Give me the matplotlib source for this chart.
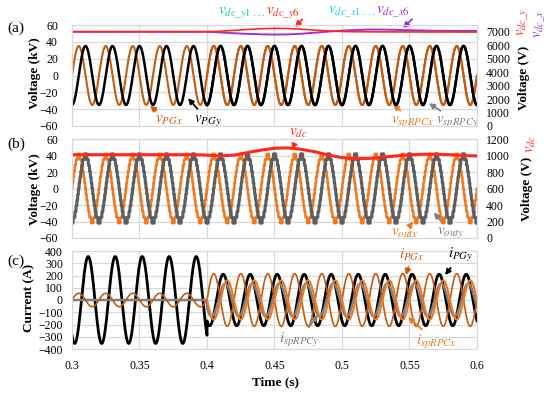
import numpy as np
import matplotlib
matplotlib.use('Agg')
import matplotlib.pyplot as plt

plt.rcParams['font.family'] = ['Liberation Serif', 'DejaVu Serif']
plt.rcParams['mathtext.fontset'] = 'stix'
plt.rcParams['axes.unicode_minus'] = True

# ---------------- data ----------------
F_GRID = 50.0                      # Hz
T_START, T_END, T_STEP_EVENT = 0.3, 0.6, 0.4
XTICKS = [0.3, 0.35, 0.4, 0.45, 0.5, 0.55, 0.6]
XTICK_LABELS = ['0.3', '0.35', '0.4', '0.45', '0.5', '0.55', '0.6']

# panel (a): grid voltages (kV) and spRPC voltages (V): amplitude / offset / peak time
VPG_AMP_KV = [35.0, 35.0]          # x, y
VPG_PEAK_T = [0.305, 0.310]
VSP_AMP_V = [2200.0, 2200.0]
VSP_OFFSET_V = [3750.0, 3750.0]
VSP_PEAK_T = [0.305, 0.310]

# panel (a): dc-link voltages (V) read every 10 ms
DC_T = [0.30, 0.31, 0.32, 0.33, 0.34, 0.35, 0.36, 0.37, 0.38, 0.39, 0.40,
        0.41, 0.42, 0.43, 0.44, 0.45, 0.46, 0.47, 0.48, 0.49, 0.50,
        0.51, 0.52, 0.53, 0.54, 0.55, 0.56, 0.57, 0.58, 0.59, 0.60]
VDC_Y = [7000, 7000, 7000, 7000, 7000, 7000, 7000, 7000, 7000, 7000, 7000,
         7040, 7100, 7170, 7220, 7250, 7240, 7190, 7120, 7060, 7020,
         7000, 6990, 6990, 6985, 6985, 6980, 6980, 6980, 6975, 6975]
VDC_X = [7000, 7000, 7000, 7000, 7000, 7000, 7000, 7000, 7000, 7000, 7000,
         6950, 6890, 6840, 6810, 6790, 6800, 6850, 6930, 7010, 7080,
         7130, 7160, 7160, 7140, 7110, 7090, 7070, 7060, 7060, 7060]

# panel (b): multilevel output voltages (kV) and dc voltage (V)
VOUT_AMP_KV = [40.0, 40.0]
VOUT_PEAK_T = [0.305, 0.310]
VOUT_LEVEL_KV = 7.0
VDC_B = [1010, 1010, 1010, 1010, 1010, 1010, 1010, 1010, 1010, 1010, 1005,
         995, 1005, 1035, 1065, 1088, 1092, 1075, 1045, 1005, 975,
         962, 965, 978, 995, 1008, 1015, 1015, 1010, 1000, 995]

# panel (c): currents (A): amplitude before / after 0.4 s, peak time
I_NAMES = ['iPGy', 'ispRPCy', 'iPGx', 'ispRPCx']
I_AMP_BEFORE = [355.0, 0.0, 55.0, 0.0]
I_AMP_AFTER = [210.0, 135.0, 215.0, 160.0]
I_PEAK_T = [0.312, 0.3135, 0.305, 0.315]

# ---------------- colours ----------------
C_BROWN = '#C55A11'
C_ORANGE = '#F07820'
C_GRAY = '#808080'
C_DGRAY = '#5E5E5E'
C_RED = '#FF2A1A'
C_PURPLE = '#9B30D9'
C_TEAL = '#12C9A6'
C_CYAN = '#1EC8F0'
C_GRID = '#D9D9D9'

t = np.linspace(T_START, T_END, 6001)
w = 2 * np.pi * F_GRID


def wave(amp, peak, offset=0.0):
    return offset + amp * np.cos(w * (t - peak))


fig = plt.figure(figsize=(5.5, 3.94), dpi=100)
FW, FH = 550.0, 394.0


def rect(top, bot):
    return [72 / FW, 1 - bot / FH, 405 / FW, (bot - top) / FH]


axa = fig.add_axes(rect(25, 126))
axb = fig.add_axes(rect(139, 238))
axc = fig.add_axes(rect(251, 349))


def style(ax, pad):
    ax.set_xlim(T_START, T_END)
    ax.set_xticks(XTICKS)
    ax.grid(True, color=C_GRID, lw=0.9)
    ax.set_axisbelow(True)
    for s in ax.spines.values():
        s.set_color(C_GRID)
    ax.tick_params(length=0, labelsize=8.5, pad=pad)


for ax, pad in ((axa, 10), (axb, 10), (axc, 6.5)):
    style(ax, pad)
axa.set_xticklabels([])
axb.set_xticklabels([])
axc.set_xticklabels(XTICK_LABELS)
axc.tick_params(axis='x', pad=8)

# ---- panel (a)
axa.set_ylim(-60, 60)
axa.set_yticks(range(-60, 61, 20))
axa.plot(t, wave(VPG_AMP_KV[0], VPG_PEAK_T[0]), color=C_BROWN, lw=1.5)
axa.plot(t, wave(VPG_AMP_KV[1], VPG_PEAK_T[1]), color='black', lw=1.8)
axa2 = axa.twinx()
axa2.set_ylim(0, 7500)
axa2.set_yticks(range(0, 7001, 1000))
axa2.tick_params(length=0, labelsize=8.5, pad=6.5)
for s in axa2.spines.values():
    s.set_color(C_GRID)
m = t >= T_STEP_EVENT
axa2.plot(t[m], wave(VSP_AMP_V[0], VSP_PEAK_T[0], VSP_OFFSET_V[0])[m], color=C_BROWN, lw=1.5)
axa2.plot(t[m], wave(VSP_AMP_V[1], VSP_PEAK_T[1], VSP_OFFSET_V[1])[m], color='black', lw=1.8)
axa2.plot(DC_T, VDC_X, color=C_PURPLE, lw=1.4)
axa2.plot(DC_T, VDC_Y, color=C_RED, lw=1.2)

# ---- panel (b)
axb.set_ylim(-60, 60)
axb.set_yticks(range(-60, 61, 20))
vox = VOUT_LEVEL_KV * np.round(wave(VOUT_AMP_KV[0], VOUT_PEAK_T[0]) / VOUT_LEVEL_KV)
voy = VOUT_LEVEL_KV * np.round(wave(VOUT_AMP_KV[1], VOUT_PEAK_T[1]) / VOUT_LEVEL_KV)
axb.plot(t, vox, color=C_ORANGE, lw=1.8)
axb.plot(t, voy, color=C_DGRAY, lw=2.2)
axb2 = axb.twinx()
axb2.set_ylim(0, 1200)
axb2.set_yticks(range(0, 1201, 200))
axb2.tick_params(length=0, labelsize=8.5, pad=6.5)
for s in axb2.spines.values():
    s.set_color(C_GRID)
axb2.plot(DC_T, VDC_B, color=C_RED, lw=2.2)

# ---- panel (c)
axc.set_ylim(-400, 400)
axc.set_yticks(range(-400, 401, 100))
styles = {'iPGy': ('black', 2.0), 'ispRPCy': (C_GRAY, 1.8),
          'iPGx': (C_BROWN, 1.2), 'ispRPCx': (C_ORANGE, 1.5)}
before = t < T_STEP_EVENT
for name, a0, a1, pk in zip(I_NAMES, I_AMP_BEFORE, I_AMP_AFTER, I_PEAK_T):
    amp = np.where(before, a0, a1)
    col, lw = styles[name]
    y = amp * np.cos(w * (t - pk))
    if name == 'ispRPCx':
        y = np.where(before, np.nan, y)
    axc.plot(t, y, color=col, lw=lw)

# ---------------- annotations ----------------
def note(ax, txt, xy, xytext, color, size=11):
    ax.annotate(txt, xy=xy, xytext=xytext, color=color, fontsize=size,
                ha='center', va='center', annotation_clip=False,
                arrowprops=dict(arrowstyle='-|>', color=color, lw=1.3,
                                mutation_scale=8, shrinkA=1, shrinkB=0))


note(axa, r'$v_{PGx}$', (0.3578, -36), (0.3715, -54), C_BROWN)
note(axa, r'$v_{PGy}$', (0.3859, -27), (0.4005, -53), 'black')
note(axa, r'$v_{spRPCx}$', (0.5378, -34), (0.5525, -55), C_ORANGE)
note(axa, r'$v_{spRPCy}$', (0.5644, -33), (0.5855, -55), C_GRAY)
note(axa, '', (0.4652, 57.5), (0.4712, 68), C_RED)
note(axa, '', (0.5452, 56.5), (0.5526, 68), C_PURPLE)
axa.text(0.4430, 75, r'$v_{dc\_y1\ ...}$', color=C_TEAL, fontsize=11, ha='right', va='center')
axa.text(0.4440, 75, r'$v_{dc\_y6}$', color=C_RED, fontsize=11, ha='left', va='center')
axa.text(0.5245, 75, r'$v_{dc\_x1\ ...}$', color=C_CYAN, fontsize=11, ha='right', va='center')
axa.text(0.5255, 75, r'$v_{dc\_x6}$', color=C_PURPLE, fontsize=11, ha='left', va='center')

note(axb, r'$v_{dc}$', (0.463, 47), (0.4680, 67), C_RED)
note(axb, r'$v_{outx}$', (0.5526, -40), (0.5460, -55), C_ORANGE)
note(axb, r'$v_{outy}$', (0.5681, -29), (0.5800, -53), C_GRAY)

note(axc, r'$i_{PGx}$', (0.5474, 204), (0.5519, 367), C_BROWN)
note(axc, r'$i_{PGy}$', (0.5763, 204), (0.5881, 367), 'black')
note(axc, r'$i_{spRPCx}$', (0.5489, -139), (0.5696, -343), C_ORANGE)
note(axc, r'$i_{spRPCy}$', (0.4822, -122), (0.4681, -327), C_GRAY)

# ---------------- axis titles ----------------
def ftext(x, y, s, **kw):
    fig.text(x / FW, 1 - y / FH, s, **kw)


ftext(16, 28, '(a)', fontsize=11, ha='center', va='center')
ftext(16, 144, '(b)', fontsize=11, ha='center', va='center')
ftext(16, 261, '(c)', fontsize=11, ha='center', va='center')
ftext(35, 73, 'Voltage (kV)', fontsize=9.5, fontweight='bold', rotation=90, ha='center', va='center')
ftext(35, 189, 'Voltage (kV)', fontsize=9.5, fontweight='bold', rotation=90, ha='center', va='center')
ftext(29, 298, 'Current (A)', fontsize=9.5, fontweight='bold', rotation=90, ha='center', va='center')
ftext(524, 78, 'Voltage (V)', fontsize=9.5, fontweight='bold', rotation=90, ha='center', va='center')
ftext(523, 22, r'$v_{dc\_y}$', fontsize=10.5, color=C_RED, rotation=90, ha='center', va='center')
ftext(540, 24, r'$v_{dc\_x}$', fontsize=10.5, color=C_PURPLE, rotation=90, ha='center', va='center')
ftext(527, 189, 'Voltage (V)', fontsize=9.5, fontweight='bold', rotation=90, ha='center', va='center')
ftext(531, 144, r'$v_{dc}$', fontsize=10.5, color=C_RED, rotation=90, ha='center', va='center')
ftext(275, 382, 'Time (s)', fontsize=9.5, fontweight='bold', ha='center', va='center')

fig.savefig('out.png', dpi=100)
